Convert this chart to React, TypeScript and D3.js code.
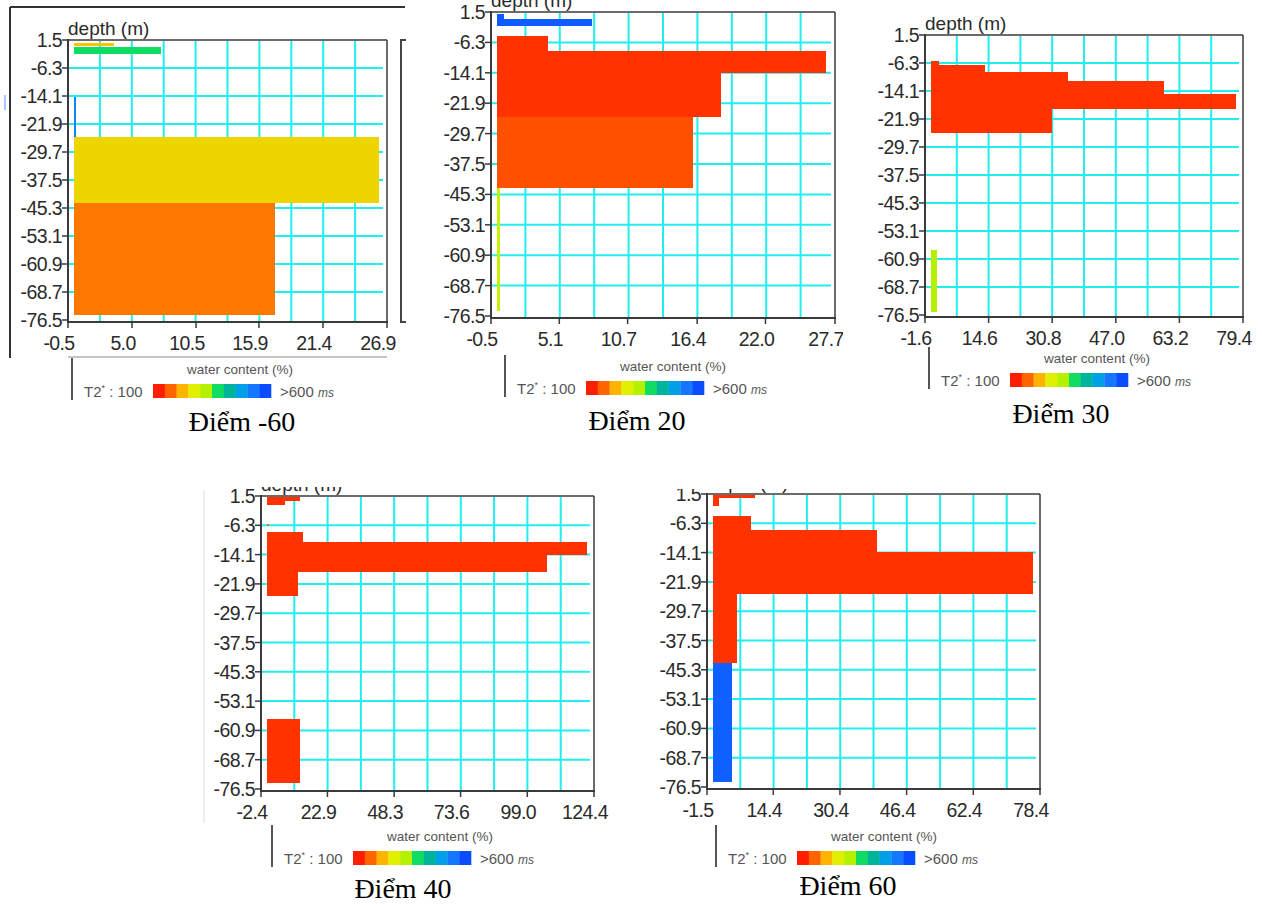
import * as d3 from "d3";

// depth ticks shared by every sounding (m)
const DEPTH_TICKS = [1.5, -6.3, -14.1, -21.9, -29.7, -37.5, -45.3, -53.1, -60.9, -68.7, -76.5];

// T2* colour bar: 100 ms .. >600 ms
const T2_STEPS = [100, 155, 210, 265, 320, 375, 430, 485, 540, 600];
const T2_COLORS = ["#ff1e00", "#ff6400", "#ffb400", "#e0f000", "#b4f000", "#10dc64", "#00b49c", "#00a0e6", "#1478ff", "#0a4cff"];

// water content axis ticks (%)
const XTICKS_M60 = [-0.5, 5.0, 10.5, 15.9, 21.4, 26.9];
const XTICKS_20 = [-0.5, 5.1, 10.7, 16.4, 22.0, 27.7];
const XTICKS_30 = [-1.6, 14.6, 30.8, 47.0, 63.2, 79.4];
const XTICKS_40 = [-2.4, 22.9, 48.3, 73.6, 99.0, 124.4];
const XTICKS_60 = [-1.5, 14.4, 30.4, 46.4, 62.4, 78.4];

// layers: [top depth, bottom depth, water content %, T2* ms]
const LAYERS_M60 = [
    [0.7, -0.2, 3.4, 225],
    [-0.4, -2.4, 7.5, 375],
    [-14.4, -25.5, 0.2, 520],
    [-25.5, -43.9, 26.2, 240],
    [-43.9, -75.1, 17.3, 169],
];
const LAYERS_20 = [
    [1.0, -0.4, 0.6, 578],
    [-0.3, -2.1, 7.8, 578],
    [-4.7, -8.4, 4.2, 116],
    [-8.4, -14.1, 27.0, 116],
    [-14.1, -25.5, 18.4, 116],
    [-25.5, -43.7, 16.1, 139],
    [-43.7, -75.2, 0.25, 295],
];
const LAYERS_30 = [
    [-5.7, -6.9, 2.0, 116],
    [-6.9, -8.8, 13.7, 116],
    [-8.8, -11.3, 34.9, 116],
    [-11.3, -14.9, 59.3, 116],
    [-14.9, -19.1, 77.6, 116],
    [-19.1, -25.8, 30.7, 116],
    [-58.4, -75.7, 1.5, 320],
];
const LAYERS_40 = [
    [1.3, 0.2, 12.5, 116],
    [0.2, -0.9, 6.8, 116],
    [-5.9, -6.4, 0.6, 169],
    [-8.1, -10.8, 13.7, 116],
    [-10.8, -14.3, 121.7, 116],
    [-14.3, -18.6, 106.8, 116],
    [-18.6, -25.2, 11.8, 116],
    [-57.9, -75.0, 12.5, 116],
];
const LAYERS_60 = [
    [1.2, 0.4, 10.1, 116],
    [0.4, -1.7, 1.5, 116],
    [-4.4, -8.2, 9.1, 116],
    [-8.2, -14.0, 39.4, 116],
    [-14.0, -25.0, 76.9, 116],
    [-25.0, -43.4, 5.8, 116],
    [-43.4, -75.2, 4.6, 573],
];

const CAPTIONS = ["Điểm -60", "Điểm 20", "Điểm 30", "Điểm 40", "Điểm 60"];

// where each screenshot sits on the page
const PANELS = [
    { xt: XTICKS_M60, layers: LAYERS_M60, L: 68, R: 387, yr: [40, 320], clip: [0, 0, 422, 445], leg: [72, 358], cap: [242, 431] },
    { xt: XTICKS_20, layers: LAYERS_20, L: 491, R: 835, yr: [12, 316], clip: [425, 0, 418, 445], leg: [505, 355], cap: [637, 430] },
    { xt: XTICKS_30, layers: LAYERS_30, L: 925, R: 1243, yr: [35, 315], clip: [862, 0, 400, 445], leg: [929, 347], cap: [1061, 423] },
    { xt: XTICKS_40, layers: LAYERS_40, L: 261, R: 594, yr: [496, 789], clip: [195, 487, 420, 430], leg: [272, 825], cap: [403, 898] },
    { xt: XTICKS_60, layers: LAYERS_60, L: 707, R: 1040, yr: [494, 787], clip: [660, 489, 400, 430], leg: [716, 825], cap: [848, 895] },
];

const SANS = "'Liberation Sans', Arial, sans-serif";
const AXIS = "#3a3a3a";
const GRID = "#22eef0";

const t2Color = d3.scaleLinear<string>().domain(T2_STEPS).range(T2_COLORS).clamp(true);

function Legend({ x, y }) {
    const cw = 11.8;
    return (
        <g fill="#555" fontFamily={SANS}>
            <line x1={x} x2={x} y1={y} y2={y + 42} stroke="#555" strokeWidth={2} />
            <text x={x + 168} y={y + 16} fontSize={13.5} textAnchor="middle">water content (%)</text>
            <text x={x + 12} y={y + 39} fontSize={15}>
                T2<tspan fontSize={9} dy={-6}>*</tspan><tspan dy={6}> : 100</tspan>
            </text>
            {T2_COLORS.map((c, i) => (
                <rect key={i} x={x + 81 + i * cw} y={y + 26} width={cw + 0.3} height={14} fill={c} />
            ))}
            <text x={x + 208} y={y + 39} fontSize={15}>
                &gt;600 <tspan fontSize={12} fontStyle="italic">ms</tspan>
            </text>
        </g>
    );
}

function Panel({ p, i }) {
    const [x0, x1] = [p.xt[0], p.xt[p.xt.length - 1]];
    const x = d3.scaleLinear().domain([x0, x1]).range([p.L, p.R]);
    const y = d3.scaleLinear().domain([DEPTH_TICKS[0], DEPTH_TICKS[DEPTH_TICKS.length - 1]]).range(p.yr);
    const T = p.yr[0];
    const B = p.yr[1] + 2;
    const gridX = d3.range(1, 10).map(k => x0 + (k * (x1 - x0)) / 10);
    const gridY = DEPTH_TICKS.slice(1, -1);
    const id = `clip${i}`;
    const [cx, cy, cw, ch] = p.clip;

    return (
        <g clipPath={`url(#${id})`}>
            <defs>
                <clipPath id={id}>
                    <rect x={cx} y={cy} width={cw} height={ch} />
                </clipPath>
            </defs>

            {/* grid */}
            {gridX.map((v, k) => (
                <line key={"gx" + k} x1={x(v)} x2={x(v)} y1={T + 1} y2={B} stroke={GRID} strokeWidth={2} />
            ))}
            {gridY.map((v, k) => (
                <line key={"gy" + k} x1={p.L} x2={p.R - 4} y1={y(v)} y2={y(v)} stroke={GRID} strokeWidth={2} />
            ))}

            {/* layers */}
            <g shapeRendering="crispEdges">
                {p.layers.map(([top, bot, w, t2], k) => (
                    <rect key={"l" + k} x={Math.round(x(0))} y={Math.round(y(top))}
                        width={Math.max(Math.round(x(w) - x(0)), 2)}
                        height={Math.round(y(bot)) - Math.round(y(top))} fill={t2Color(t2)} />
                ))}
            </g>

            {/* frame */}
            <line x1={p.L} x2={p.R} y1={T} y2={T} stroke={AXIS} strokeWidth={1.5} />
            <line x1={p.R} x2={p.R} y1={T} y2={B} stroke={AXIS} strokeWidth={1.5} />
            <line x1={p.L} x2={p.L} y1={T - 1} y2={B + 1} stroke={AXIS} strokeWidth={2} />
            <line x1={p.L} x2={p.R + 1} y1={B} y2={B} stroke={AXIS} strokeWidth={2} />

            {/* y axis */}
            {DEPTH_TICKS.map((v, k) => (
                <g key={"yt" + k}>
                    <line x1={p.L - 6} x2={p.L} y1={y(v)} y2={y(v)} stroke={AXIS} strokeWidth={1.5} />
                    <text x={p.L - 6} y={y(v)} dy="0.36em" textAnchor="end" fontSize={19.5}
                        fontFamily={SANS} fill="#2a2a2a" letterSpacing={-0.6}>{v.toFixed(1)}</text>
                </g>
            ))}
            <text x={p.L} y={T - 5} fontSize={19} fontFamily={SANS} fill="#2a2a2a">depth (m)</text>

            {/* x axis */}
            {p.xt.map((v, k) => (
                <g key={"xt" + k}>
                    <line x1={x(v)} x2={x(v)} y1={B} y2={B + 6} stroke={AXIS} strokeWidth={1.5} />
                    <text x={x(v) - 9} y={B + 28} textAnchor="middle" fontSize={19.5}
                        fontFamily={SANS} fill="#2a2a2a" letterSpacing={-0.6}>{v.toFixed(1)}</text>
                </g>
            ))}

            <Legend x={p.leg[0]} y={p.leg[1]} />

            <text x={p.cap[0]} y={p.cap[1]} textAnchor="middle" fontSize={28}
                fontFamily="'Liberation Serif', 'Times New Roman', serif" fill="#000">{CAPTIONS[i]}</text>
        </g>
    );
}

export default function App() {
    return (
        <div style={{ position: "absolute", left: 0, top: 0 }}>
            <svg width={1262} height={905} style={{ display: "block", background: "#fff" }}>
                {/* window edges left over from the screenshot crops */}
                <line x1={10} x2={405} y1={7} y2={7} stroke="#333" strokeWidth={2} />
                <line x1={10} x2={10} y1={7} y2={358} stroke="#333" strokeWidth={2} />
                <line x1={68} x2={387} y1={357} y2={357} stroke="#888" strokeWidth={1} />
                <path d="M406,40 H401 V322 H406" fill="none" stroke="#444" strokeWidth={2} />
                <line x1={5} x2={5} y1={95} y2={110} stroke="#a8c8ff" strokeWidth={2} />
                <line x1={204} x2={204} y1={490} y2={823} stroke="#ddd" strokeWidth={1} />
                {PANELS.map((p, i) => <Panel key={i} p={p} i={i} />)}
            </svg>
        </div>
    );
}
